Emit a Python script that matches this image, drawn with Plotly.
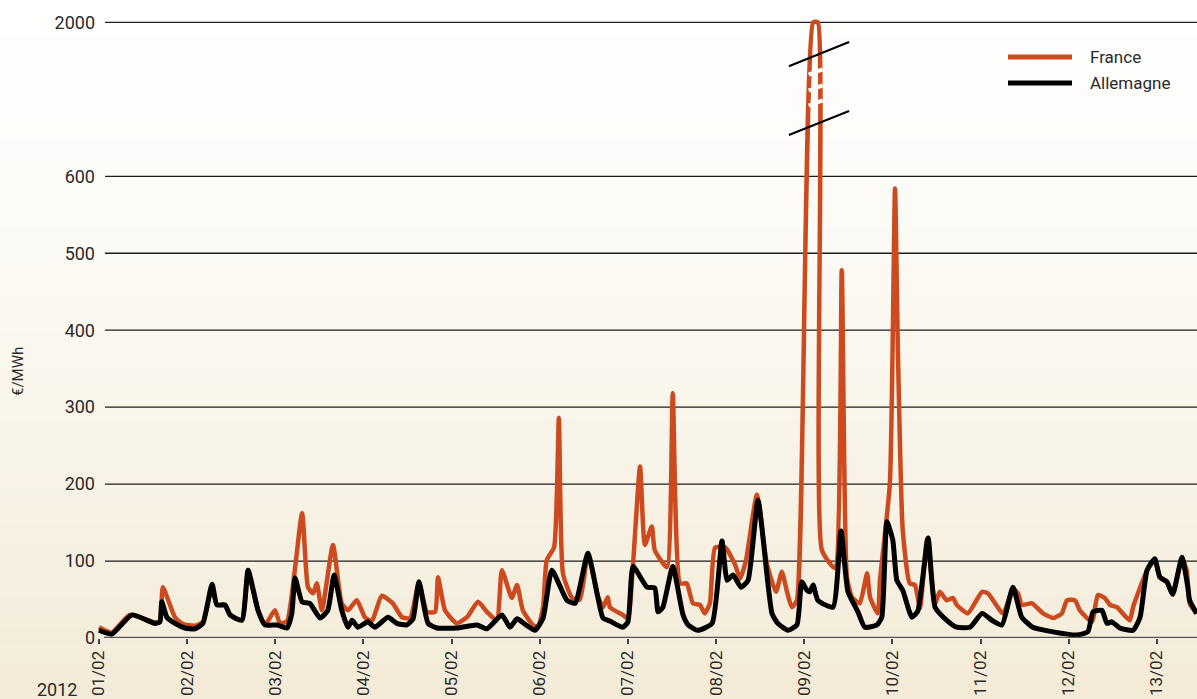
import plotly.graph_objects as go

# ---- data (hours since 01/02/2012 00:00, €/MWh) ----
france_t = [0, 3.5, 8.4, 15.2, 16.6, 17.4, 20.7, 22.9, 26.1, 28.3,
            30.8, 32.1, 34.3, 35.7, 38.9, 40.6, 43.3, 45.2, 47.9, 49.3,
            51.2, 55.3, 56.9, 58.3, 59.3, 60.7, 63.7, 66.1, 67.8, 70.2,
            72.4, 74.3, 77.0, 80.0, 82.5, 84.7, 87.1, 89.3, 91.5, 92.3,
            94.2, 97.4, 100.2, 103.2, 105.6, 108.3, 109.7, 112.4, 113.8, 115.4,
            118.1, 119.5, 120.9, 121.9, 123.9, 125.2, 126.3, 128.8, 130.9, 133.1,
            135.8, 137.2, 138.5, 139.1, 142.6, 144.0, 145.4, 147.3, 148.6, 150.5,
            151.3, 154.6, 156.2, 158.2, 160.0, 161.7, 163.6, 164.9, 166.3, 167.7,
            170.4, 173.2, 174.5, 176.1, 179.1, 181.8, 184.3, 185.9, 187.3, 188.6,
            190.0, 194.4, 195.7, 196.8, 200.3, 202.2, 203.6, 205.0, 207.1, 209.1,
            209.9, 212.0, 212.6, 215.3, 216.7, 217.5, 218.8, 220.7, 222.1, 223.5,
            225.4, 227.6, 228.9, 230.8, 232.5, 233.5, 236.5, 240.4, 242.0, 246.1,
            248.8, 250.2, 251.2, 254.0, 257.0, 259.7, 262.1, 263.5, 265.7, 267.0,
            270.3, 271.9, 273.8, 275.2, 277.1, 278.7, 280.6, 281.5, 285.3, 287.4,
            288.8, 290.7, 292.3, 294.8, 296.1, 296.9, 298.8]
france_v = [14, 7, 30, 20, 22, 66, 27, 18, 16, 21,
            68, 43, 43, 30, 23, 86, 36, 17, 36, 19,
            22, 162, 66, 58, 71, 36, 121, 45, 36, 49,
            27, 22, 55, 45, 27, 26, 72, 34, 34, 79,
            36, 19, 27, 47, 34, 23, 88, 52, 69, 36,
            17, 14, 40, 101, 118, 286, 84, 52, 50, 108,
            55, 40, 53, 40, 30, 25, 97, 223, 121, 145,
            114, 92, 318, 71, 71, 45, 43, 32, 45, 117,
            118, 95, 77, 100, 186, 97, 60, 86, 60, 40,
            49, 2000, 2000, 114, 91, 478, 79, 53, 45, 84,
            53, 32, 75, 201, 584, 370, 140, 71, 69, 39,
            128, 45, 60, 49, 52, 43, 32, 60, 58, 32,
            64, 58, 43, 45, 32, 26, 32, 49, 49, 36,
            21, 56, 52, 43, 40, 32, 23, 40, 88, 101,
            79, 73, 57, 103, 88, 45, 32]

allemagne_t = [0, 3.5, 9.0, 15.2, 16.6, 17.1, 18.5, 20.7, 23.4, 26.1,
               28.3, 30.8, 32.1, 34.3, 35.7, 38.9, 40.6, 43.3, 45.2, 48.5,
               51.2, 52.5, 53.4, 55.3, 57.4, 60.2, 62.3, 64.0, 66.1, 67.8,
               68.9, 70.5, 73.2, 75.1, 78.7, 81.1, 83.8, 85.5, 87.1, 89.6,
               92.0, 97.4, 102.9, 105.6, 109.7, 111.9, 113.8, 116.5, 118.7, 120.9,
               123.3, 127.4, 129.6, 133.1, 135.8, 137.2, 139.1, 142.6, 144.0, 145.4,
               149.2, 151.3, 152.2, 153.5, 156.2, 159.0, 160.4, 163.0, 166.9, 169.6,
               171.0, 172.6, 174.8, 176.7, 179.4, 183.2, 184.8, 187.5, 190.0, 191.3,
               192.7, 193.5, 194.4, 195.7, 199.8, 202.0, 203.9, 206.6, 208.5, 211.8,
               213.1, 214.5, 216.1, 217.2, 218.8, 221.3, 222.9, 225.7, 227.6, 230.8,
               233.5, 237.1, 240.4, 243.1, 245.8, 248.8, 251.2, 254.2, 259.7, 266.2,
               269.2, 270.6, 273.0, 274.4, 275.7, 277.9, 281.5, 283.4, 285.3, 287.4,
               288.8, 290.7, 292.3, 294.8, 296.4, 296.9, 298.8]
allemagne_v = [10, 5, 30, 19, 21, 47, 27, 19, 13, 12,
               19, 70, 43, 43, 30, 23, 88, 36, 17, 17,
               13, 32, 78, 47, 45, 26, 36, 82, 36, 14,
               23, 14, 21, 14, 27, 19, 17, 25, 73, 19,
               13, 13, 17, 12, 30, 14, 25, 16, 10, 26,
               88, 49, 45, 110, 53, 26, 22, 14, 21, 93,
               66, 65, 34, 40, 93, 30, 17, 10, 19, 126,
               75, 82, 66, 75, 179, 32, 19, 10, 17, 73,
               62, 60, 69, 49, 40, 139, 60, 34, 14, 17,
               27, 151, 127, 75, 62, 27, 35, 130, 40, 23,
               14, 14, 32, 23, 17, 66, 27, 14, 8, 4,
               8, 34, 36, 19, 21, 13, 10, 27, 88, 103,
               79, 73, 57, 105, 66, 49, 32]

day_ticks = [0, 24, 48, 72, 96, 120, 144, 168, 192, 216, 240, 264, 288]
day_labels = ["01/02", "02/02", "03/02", "04/02", "05/02", "06/02", "07/02",
              "08/02", "09/02", "10/02", "11/02", "12/02", "13/02"]
y_ticks = [0, 100, 200, 300, 400, 500, 600, 2000]

# broken axis: linear up to 600, compressed above (600..2000 -> 600..800)
BREAK, TOP, TOP_POS = 600, 2000, 800


def brk(v):
    return v if v <= BREAK else BREAK + (v - BREAK) * (TOP_POS - BREAK) / (TOP - BREAK)


FR_COLOR = "#cd4a1e"
DE_COLOR = "#000000"
FONT = "Roboto"
TXT = "#2a2a2a"

fig = go.Figure()
fig.add_trace(go.Scatter(x=france_t, y=[brk(v) for v in france_v], mode="lines",
                         name="France",
                         line=dict(color=FR_COLOR, width=4.5, shape="spline", smoothing=0.5)))
fig.add_trace(go.Scatter(x=allemagne_t, y=[brk(v) for v in allemagne_v], mode="lines",
                         name="Allemagne",
                         line=dict(color=DE_COLOR, width=5, shape="spline", smoothing=0.5)))

shapes = []
# background gradient (white top -> cream bottom)
n = 40
top_c = (255, 255, 255)
bot_c = (243, 235, 215)
H = 631.0
for i in range(n):
    f0 = i / n
    f1 = (i + 1) / n
    fm = (f0 + f1) / 2
    c = tuple(int(round(top_c[k] + (bot_c[k] - top_c[k]) * fm ** 1.3)) for k in range(3))
    y_top = (638 - 699 * f0) / H
    y_bot = (638 - 699 * f1) / H
    shapes.append(dict(type="rect", xref="paper", yref="paper", x0=-96 / 1101, x1=1.0,
                       y0=y_bot, y1=y_top, line=dict(width=0),
                       fillcolor="rgb(%d,%d,%d)" % c, layer="below"))
# gridlines
for v in y_ticks[1:]:
    shapes.append(dict(type="line", xref="paper", yref="y", x0=9 / 1101, x1=1,
                       y0=brk(v), y1=brk(v), line=dict(color="#1e1e1e", width=1.3), layer="below"))
# x axis line
shapes.append(dict(type="line", xref="paper", yref="y", x0=8 / 1101, x1=1, y0=0, y1=0,
                   line=dict(color="#555555", width=2.5), layer="above"))
# break gaps on the spike (white slashes)
for yc in [72, 88, 103]:
    yv = (638 - yc) / 0.7695
    shapes.append(dict(type="line", xref="x", yref="y", x0=193.2, x1=197.0,
                       y0=yv - 3.5, y1=yv + 3.5, line=dict(color="white", width=4), layer="above"))
# break marks
for (ya, yb) in [(743, 774.5), (653.7, 684.9)]:
    shapes.append(dict(type="line", xref="x", yref="y", x0=187.8, x1=204.2, y0=ya, y1=yb,
                       line=dict(color="black", width=2), layer="above"))
# legend lines
for yy, col in [(57, FR_COLOR), (83, DE_COLOR)]:
    yp = (638 - yy) / H
    shapes.append(dict(type="line", xref="paper", yref="paper", x0=(1008 - 96) / 1101,
                       x1=(1072 - 96) / 1101, y0=yp, y1=yp, line=dict(color=col, width=5)))

annotations = [
    dict(text="France", x=(1088 - 96) / 1101, y=(638 - 57) / H, xref="paper", yref="paper",
         xanchor="left", yanchor="middle", showarrow=False, font=dict(family=FONT, size=17, color=TXT)),
    dict(text="Allemagne", x=(1088 - 96) / 1101, y=(638 - 83) / H, xref="paper", yref="paper",
         xanchor="left", yanchor="middle", showarrow=False, font=dict(family=FONT, size=17, color=TXT)),
    dict(text="€/MWh", x=(18 - 96) / 1101, y=(638 - 372) / H, xref="paper", yref="paper",
         textangle=-90, xanchor="center", yanchor="middle", showarrow=False,
         font=dict(family=FONT, size=15, color=TXT)),
    dict(text="2012", x=(57 - 96) / 1101, y=(638 - 689) / H, xref="paper", yref="paper",
         xanchor="center", yanchor="middle", showarrow=False,
         font=dict(family=FONT, size=18, color=TXT)),
]

fig.update_layout(
    width=1197, height=699,
    margin=dict(l=96, r=0, t=7, b=61),
    paper_bgcolor="#fbf8f0", plot_bgcolor="rgba(0,0,0,0)",
    showlegend=False,
    shapes=shapes, annotations=annotations,
    font=dict(family=FONT, color=TXT),
    xaxis=dict(range=[-0.8, 298.9], tickvals=day_ticks, ticktext=day_labels,
               tickangle=-90, ticks="outside", ticklen=5, tickwidth=2, tickcolor="#444",
               showgrid=False, zeroline=False, showline=False,
               tickfont=dict(family=FONT, size=17, color=TXT)),
    yaxis=dict(range=[0, 820], tickvals=[brk(v) for v in y_ticks],
               ticktext=[str(v) for v in y_ticks], showgrid=False, zeroline=False,
               showline=False, ticks="", tickfont=dict(family=FONT, size=18, color=TXT)),
)

fig.write_html("out.html", config={"displayModeBar": False},
               post_script="document.body.style.margin='0';document.body.style.overflow='hidden';")
